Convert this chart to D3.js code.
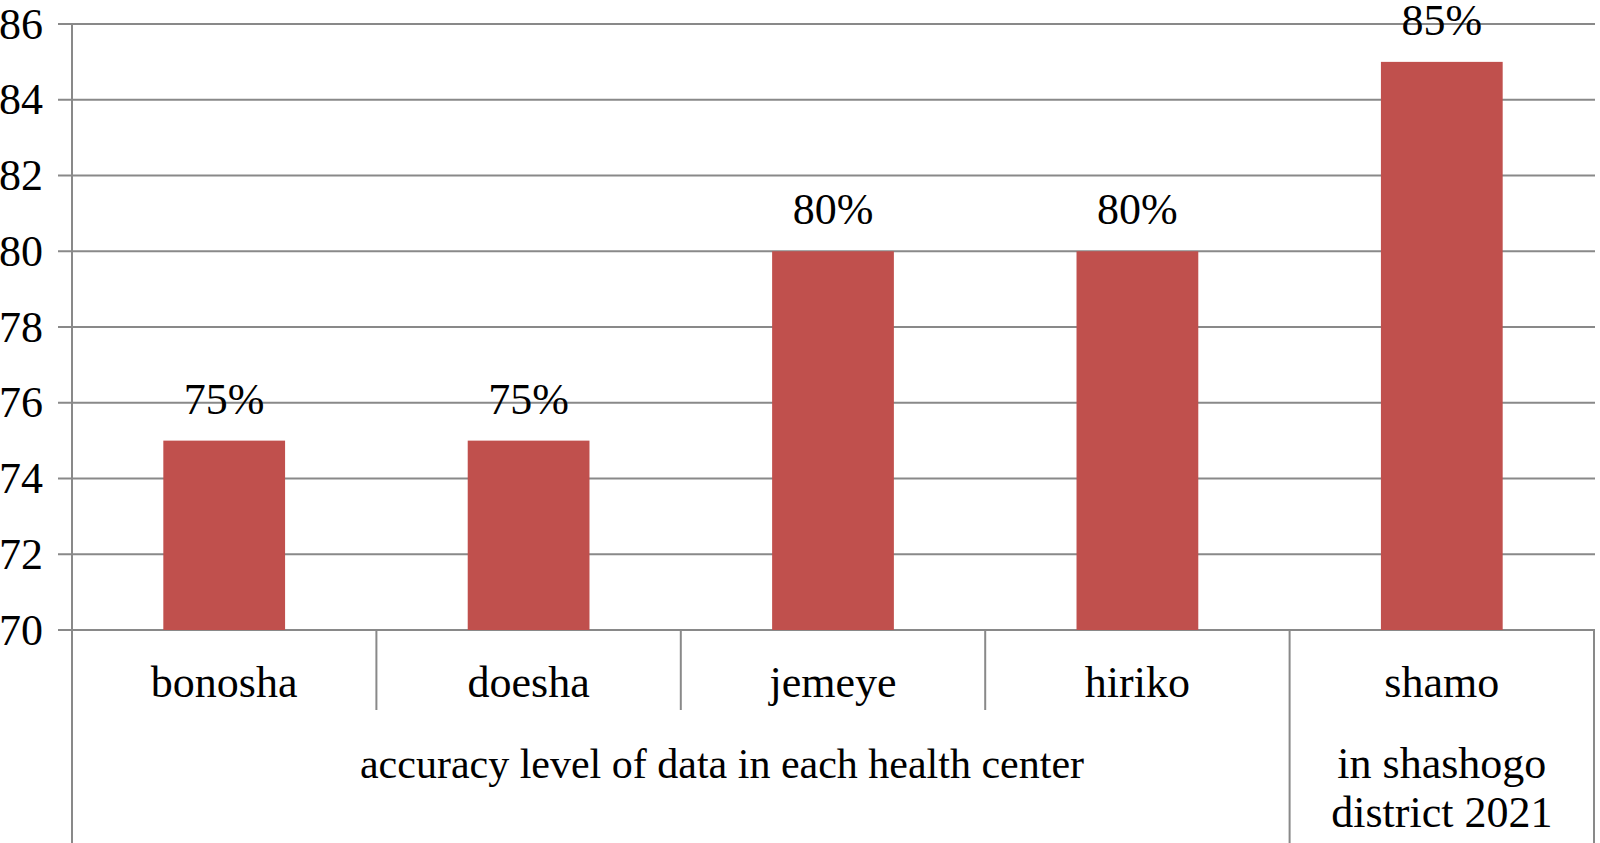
<!DOCTYPE html>
<html>
<head>
	<meta charset="utf-8">
	<title>accuracy level of data</title>
	<style type="text/css">
body {
  margin: 0;
  background: #fff;
}

text {
  font-family: "Liberation Serif", "Times New Roman", serif;
  fill: #000;
}

.grid line, .frame line {
  stroke: #898989;
  stroke-width: 2px;
}
	</style>
</head>
<body>
	<svg width="1600" height="843"></svg>

	<script src="https://d3js.org/d3.v7.min.js"></script>
	<script>
		// values
		var centers = ["bonosha", "doesha", "jemeye", "hiriko", "shamo"]
		var accuracy = [75, 75, 80, 80, 85]
		var valueLabels = ["75%", "75%", "80%", "80%", "85%"]
		var yTicks = [70, 72, 74, 76, 78, 80, 82, 84, 86]
		var groupLabel = "accuracy level of data in each health center"
		var lastLabel = ["in shashogo", "district 2021"]

		var svg = d3.select("svg"),
		    height = +svg.attr("height");

		var plotLeft = 72, plotRight = 1594, plotTop = 24, plotBottom = 630;
		var fontSize = 44;

		var x = d3.scaleBand()
		    .domain(centers)
		    .range([plotLeft, plotRight])
		    .paddingInner(0.6)
		    .paddingOuter(0.3);

		var y = d3.scaleLinear()
		    .domain([70, 86])
		    .range([plotBottom, plotTop]);

		// horizontal gridlines (with the little tick stub left of the axis)
		svg.append("g")
		    .attr("class", "grid")
		  .selectAll("line")
		  .data(yTicks)
		  .enter().append("line")
		    .attr("x1", plotLeft - 14)
		    .attr("x2", plotRight + 1)
		    .attr("y1", function(d) { return y(d); })
		    .attr("y2", function(d) { return y(d); });

		// tick labels
		svg.append("g")
		  .selectAll("text")
		  .data(yTicks)
		  .enter().append("text")
		    .attr("x", 43)
		    .attr("y", function(d) { return y(d); })
		    .attr("dy", "0.33em")
		    .attr("text-anchor", "end")
		    .style("font-size", fontSize + "px")
		    .text(function(d) { return d; });

		// bars
		svg.append("g")
		  .selectAll("rect")
		  .data(accuracy)
		  .enter().append("rect")
		    .attr("x", function(d, i) { return x(centers[i]); })
		    .attr("width", x.bandwidth())
		    .attr("y", function(d) { return y(d); })
		    .attr("height", function(d) { return y(70) - y(d); })
		    .attr("fill", "#c0504d");

		// value labels
		svg.append("g")
		  .selectAll("text")
		  .data(accuracy)
		  .enter().append("text")
		    .attr("x", function(d, i) { return x(centers[i]) + x.bandwidth() / 2; })
		    .attr("y", function(d) { return y(d) - 27; })
		    .attr("text-anchor", "middle")
		    .style("font-size", fontSize + "px")
		    .text(function(d, i) { return valueLabels[i]; });

		// axis frame: left axis, category dividers, right edge
		var step = x.step();
		var edge = function(i) { return plotLeft + i * step; };
		var frame = svg.append("g").attr("class", "frame");

		frame.append("line")
		    .attr("x1", plotLeft).attr("x2", plotLeft)
		    .attr("y1", plotTop).attr("y2", height);

		frame.selectAll("line.div")
		  .data([1, 2, 3])
		  .enter().append("line")
		    .attr("class", "div")
		    .attr("x1", edge).attr("x2", edge)
		    .attr("y1", plotBottom).attr("y2", 710);

		frame.selectAll("line.long")
		  .data([4, 5])
		  .enter().append("line")
		    .attr("class", "long")
		    .attr("x1", edge).attr("x2", edge)
		    .attr("y1", plotBottom).attr("y2", height);

		// category names
		svg.append("g")
		  .selectAll("text")
		  .data(centers)
		  .enter().append("text")
		    .attr("x", function(d) { return x(d) + x.bandwidth() / 2; })
		    .attr("y", 697)
		    .attr("text-anchor", "middle")
		    .style("font-size", fontSize + "px")
		    .text(function(d) { return d; });

		// second level labels
		svg.append("text")
		    .attr("x", 722)
		    .attr("y", 778)
		    .attr("text-anchor", "middle")
		    .style("font-size", "42px")
		    .text(groupLabel);

		svg.append("g")
		  .selectAll("text")
		  .data(lastLabel)
		  .enter().append("text")
		    .attr("x", x("shamo") + x.bandwidth() / 2)
		    .attr("y", function(d, i) { return 778 + i * 49; })
		    .attr("text-anchor", "middle")
		    .style("font-size", fontSize + "px")
		    .text(function(d) { return d; });
	</script>
</body>
</html>
